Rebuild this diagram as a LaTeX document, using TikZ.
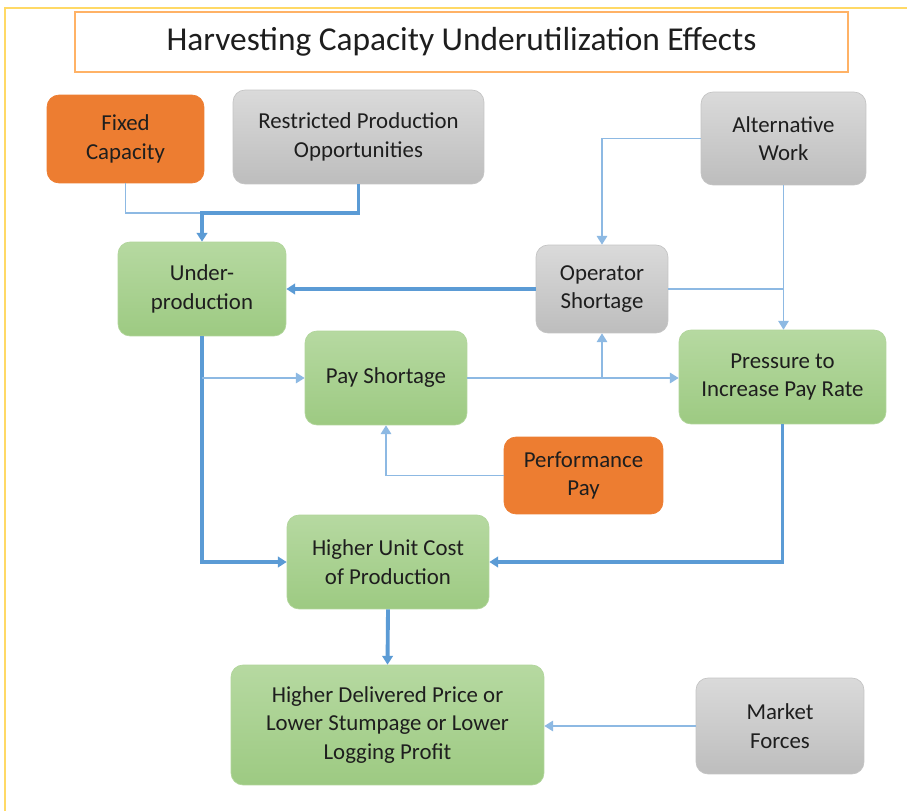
\documentclass[tikz,border=0pt]{standalone}
\usepackage{fontspec}
\setmainfont{Carlito}
\usetikzlibrary{arrows.meta}
\definecolor{linkblue}{HTML}{5B9BD5}
\definecolor{lightblue}{HTML}{8DB9E3}
\definecolor{greentop}{HTML}{B6D9A1}
\definecolor{greenbot}{HTML}{9DCA82}
\definecolor{greyTop}{HTML}{DADADA}
\definecolor{greyBot}{HTML}{BDBDBD}
\definecolor{orangefill}{HTML}{ED7D31}
\definecolor{framegold}{HTML}{FFD966}
\definecolor{textdark}{HTML}{1E1E1E}
\begin{document}
\begin{tikzpicture}[x=0.02cm, y=-0.02cm, >={Triangle[length=5pt,width=6pt]},
  every node/.style={font=\fontsize{13}{16.2}\selectfont, text=textdark, align=center},
  box/.style={rounded corners=0.24cm, inner sep=2pt},
  greenbox/.style={box, draw=greenbot!80, top color=greentop, bottom color=greenbot},
  greybox/.style={box, draw=greyBot!90, top color=greyTop, bottom color=greyBot},
  orangebox/.style={box, draw=orangefill, fill=orangefill},
  thinline/.style={draw=lightblue, line width=0.8pt},
  thickline/.style={draw=linkblue, line width=2.2pt}]
\useasboundingbox (0,0) rectangle (907,811);
\fill[white] (0,0) rectangle (907,811);
\draw[framegold, line width=1.2pt] (5,811) -- (5,8) -- (907,8);

% title
\node[draw=orange!60, line width=1pt, minimum width=15.46cm, minimum height=1.2cm,
  font=\fontsize{19}{22}\selectfont] (title) at (461.5,42) {Harvesting Capacity Underutilization Effects};

% causes
\node[orangebox, minimum width=3.14cm, minimum height=1.76cm] (fixed) at (125.5,139) {Fixed\\Capacity};
\node[greybox, minimum width=5.02cm, minimum height=1.88cm] (restricted) at (358.5,137) {Restricted Production\\Opportunities};
\node[greybox, minimum width=3.3cm, minimum height=1.86cm] (altwork) at (783.5,138.5) {Alternative\\Work};

% middle
\node[greenbox, minimum width=3.36cm, minimum height=1.88cm] (under) at (202,289) {Under-\\production};
\node[greybox, minimum width=2.64cm, minimum height=1.76cm] (operator) at (602,289) {Operator\\Shortage};
\node[greenbox, minimum width=3.24cm, minimum height=1.88cm] (payshort) at (386,378) {Pay Shortage};
\node[greenbox, minimum width=4.14cm, minimum height=1.88cm] (pressure) at (782.5,377) {Pressure to\\Increase Pay Rate};
\node[orangebox, minimum width=3.18cm, minimum height=1.54cm] (perfpay) at (583.5,475.5) {Performance\\Pay};

% results
\node[greenbox, minimum width=4.04cm, minimum height=1.88cm] (unitcost) at (388,562) {Higher Unit Cost\\of Production};
\node[greenbox, minimum width=6.26cm, minimum height=2.4cm] (delivered) at (387.5,725) {Higher Delivered Price or\\Lower Stumpage or Lower\\Logging Profit};
\node[greybox, minimum width=3.36cm, minimum height=1.92cm] (market) at (780,726) {Market\\Forces};

\coordinate (j1) at (202,213);

\draw[thinline] (fixed.south) |- (j1);
\draw[thickline,->] (restricted.south) |- (j1) -- (under.north);
\draw[thickline,->] (operator.west) -- (under.east);
\draw[thinline,->] (altwork.west) -| (operator.north);
\draw[thinline,->] (altwork.south) -- (altwork.south |- pressure.north);
\draw[thinline] (operator.east) -- (operator.east -| altwork.south);
\draw[thickline,->] (under.south) |- (unitcost.west);
\draw[thinline,->] (under.south |- payshort.west) -- (payshort.west);
\draw[thinline,->] (payshort.east) -- (payshort.east -| pressure.west);
\draw[thinline,->] (payshort.east -| operator.south) -- (operator.south);
\draw[thinline,->] (perfpay.west) -| (payshort.south);
\draw[thickline,->] (pressure.south) |- (unitcost.east);
\draw[thickline,->] (unitcost.south) -- (delivered.north);
\draw[thinline,->] (market.west) -- (market.west -| delivered.east);
\end{tikzpicture}
\end{document}
